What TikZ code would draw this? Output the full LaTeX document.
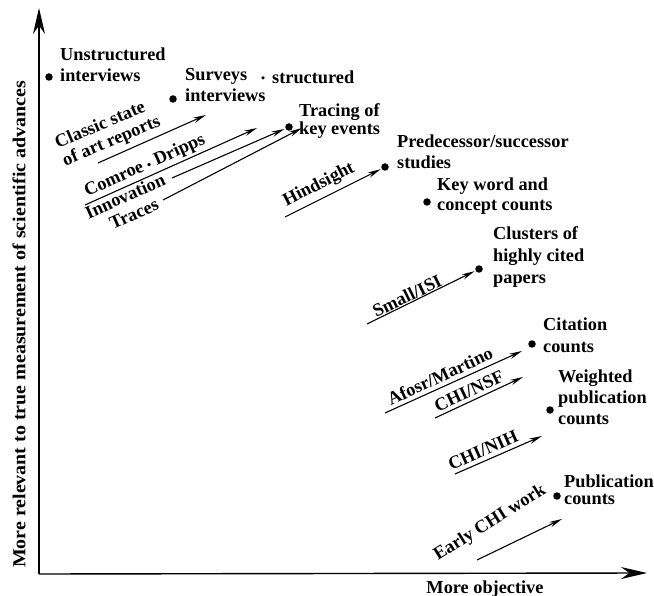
\documentclass[tikz,border=0pt]{standalone}
\usepackage{fontspec}
\setmainfont{Liberation Serif}
\usepackage{tikz}
\usetikzlibrary{arrows.meta}
\tikzset{
    measure/.style={
           circle,
           fill=black,
           inner sep=0pt,
           minimum size=7.5pt,
           },
    tinymeasure/.style={
           circle,
           fill=black,
           inner sep=0pt,
           minimum size=3.5pt,
           },
    caption/.style={
           align=left,
           anchor=north west,
           inner sep=0pt,
           font=\bfseries\fontsize{18.3}{21}\selectfont,
           },
    source/.style={
           align=left,
           inner sep=0pt,
           font=\bfseries\fontsize{18.3}{19}\selectfont,
           },
    trend/.style={-{Stealth[length=13pt,width=5.5pt]}, line width=1.1pt},
    axis/.style={-{Stealth[length=26pt,width=12pt]}, line width=1.4pt},
}

\begin{document}
\begin{tikzpicture}[x=1pt,y=-1pt]
 \useasboundingbox (0,0) rectangle (654,596);

 % the two axes
 \coordinate (origin) at (39,574);
 \coordinate (ytip) at (39,8);
 \coordinate (xtip) at (647,573);
 \draw[axis] (origin) -- (ytip);
 \draw[axis] (origin) -- (xtip);

 \node[rotate=90, inner sep=0pt, font=\bfseries\fontsize{18.3}{21}\selectfont] (ylabel) at (19,324.5)
  {\scalebox{1.09}[1]{More relevant to true measurement of scientific advances}};
 \node[caption, anchor=base] (xlabel) at (485,593) {More objective};

 % measures, from subjective (top left) to objective (bottom right)
 \node[measure] (unstr) at (49,77) {};
 \node[caption] (unstr text) at (60,48) {Unstructured\\interviews};

 \node[measure] (survey) at (173,99) {};
 \node[caption] (survey text) at (185,68) {Surveys\\interviews};
 \node[tinymeasure] (struct) at (263,78) {};
 \node[caption] (struct text) at (272,71) {structured};

 \node[measure] (trace) at (289,127) {};
 \node[caption, font=\bfseries\fontsize{18.3}{18.5}\selectfont] (trace text) at (299,103) {Tracing of\\key events};

 \node[measure] (pred) at (385,167) {};
 \node[caption] (pred text) at (397,135) {Predecessor/successor\\studies};

 \node[measure] (keyw) at (427,202) {};
 \node[caption, font=\bfseries\fontsize{18.3}{20}\selectfont] (keyw text) at (437,178) {Key word and\\concept counts};

 \node[measure] (clust) at (479,269) {};
 \node[caption, font=\bfseries\fontsize{18.3}{22}\selectfont] (clust text) at (493,226) {Clusters of\\highly cited\\papers};

 \node[measure] (cite) at (532,344) {};
 \node[caption, font=\bfseries\fontsize{18.3}{22}\selectfont] (cite text) at (543,318) {Citation\\counts};

 \node[measure] (wght) at (550,410) {};
 \node[caption] (wght text) at (558,370) {Weighted\\publication\\counts};

 \node[measure] (pub) at (557,496) {};
 \node[caption, font=\bfseries\fontsize{18.3}{17}\selectfont] (pub text) at (564,475) {Publication\\counts};

 % studies that used them
 \node[source, rotate=23] (classic) at (108,133) {Classic state\\of art reports};
 \node[source, rotate=24] (comroe) at (145,166) {Comroe {\fontsize{12}{12}\selectfont\textbullet} Dripps};
 \node[source, rotate=24] (innov) at (125,196) {Innovation};
 \node[source, rotate=24] (traces) at (134,214) {Traces};
 \node[source, rotate=27] (hind) at (319,185) {Hindsight};
 \node[source, rotate=26] (small) at (407,296) {Small/ISI};
 \node[source, rotate=25] (afosr) at (440,376) {Afosr/Martino};
 \node[source, rotate=25] (nsf) at (469,391) {CHI/NSF};
 \node[source, rotate=24] (nih) at (483,450) {CHI/NIH};
 \node[source, rotate=32] (early) at (490,523) {Early CHI work};

 % arrows below the study names
 \coordinate (classic from) at (98,163);
 \coordinate (classic to) at (206,115);
 \coordinate (comroe from) at (85,205);
 \coordinate (comroe to) at (257,128);
 \coordinate (innov from) at (172,178);
 \coordinate (traces from) at (163,200);
 \coordinate (traces to) at (302,128);
 \coordinate (hind from) at (285,217);
 \coordinate (small from) at (367,324);
 \coordinate (afosr from) at (385,413);
 \coordinate (afosr to) at (522,351);
 \coordinate (nsf from) at (435,418);
 \coordinate (nsf to) at (523,377);
 \coordinate (nih from) at (455,474);
 \coordinate (nih to) at (542,436);
 \coordinate (early from) at (477,560);
 \coordinate (early to) at (562,519);

 \draw[trend] (classic from) -- (classic to);
 \draw[trend] (comroe from) -- (comroe to);
 \draw[trend, shorten >=1pt] (innov from) -- (trace);
 \draw[trend] (traces from) -- (traces to);
 \draw[trend, shorten >=1pt] (hind from) -- (pred);
 \draw[trend, shorten >=1pt] (small from) -- (clust);
 \draw[trend] (afosr from) -- (afosr to);
 \draw[trend] (nsf from) -- (nsf to);
 \draw[trend] (nih from) -- (nih to);
 \draw[trend] (early from) -- (early to);

\end{tikzpicture}
\end{document}
